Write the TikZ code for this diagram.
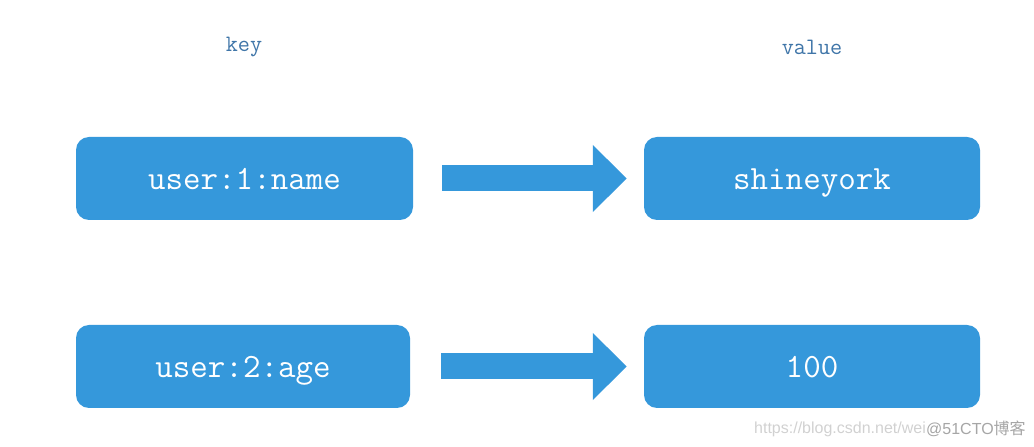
\documentclass[tikz,border=0pt]{standalone}
\usepackage{fontspec}
\newfontfamily\cjk{Noto Sans CJK SC}
\newfontfamily\wmfont{Liberation Sans}
\usetikzlibrary{arrows.meta,calc}
\definecolor{boxblue}{HTML}{3598DB}
\definecolor{labelblue}{HTML}{3F75A8}
\tikzset{
  kvbox/.style={fill=boxblue, draw=none, rounded corners=13pt, text=white,
    font=\ttfamily\fontsize{34}{40}\selectfont, inner sep=0pt,
    text height=31pt, text depth=8pt},
  header/.style={text=labelblue, font=\ttfamily\fontsize{23.5}{28}\selectfont},
  blockarrow/.style={draw=boxblue, line width=26pt,
    -{Triangle[width=65pt,length=34pt,fill=boxblue]}},
  wm/.style={text=black!18, font=\wmfont\fontsize{16}{18}\selectfont, inner sep=0pt, anchor=west}
}
\begin{document}
\begin{tikzpicture}[x=1pt,y=1pt]
\useasboundingbox (0,0) rectangle (1034,447);
\node[header] (hk) at (244,400) {key};
\node[header] (hv) at (812,400) {value};
\node[kvbox, minimum width=337pt, minimum height=83pt] (k1) at (244.5,268.5) {user:1:name};
\node[kvbox, minimum width=336pt, minimum height=83pt] (v1) at (812,268.5) {shineyork};
\node[kvbox, minimum width=334pt, minimum height=83pt] (k2) at (243,80.5) {user:2:age};
\node[kvbox, minimum width=336pt, minimum height=83pt] (v2) at (812,80.5) {100};
\coordinate (a1s) at ($(k1.east)+(29pt,0)$);
\coordinate (a1e) at ($(v1.west)+(-17pt,0)$);
\coordinate (a2s) at ($(k2.east)+(31pt,0)$);
\coordinate (a2e) at ($(v2.west)+(-17pt,0)$);
\draw[blockarrow] (a1s) -- (a1e);
\draw[blockarrow] (a2s) -- (a2e);
\node[wm] (w1) at (754,18) {https://blog.csdn.net/wei};
\node[wm, text=black!35, fill=white, inner xsep=1pt] (w2) at (925,18) {@51CTO{\cjk 博客}};
\end{tikzpicture}
\end{document}
